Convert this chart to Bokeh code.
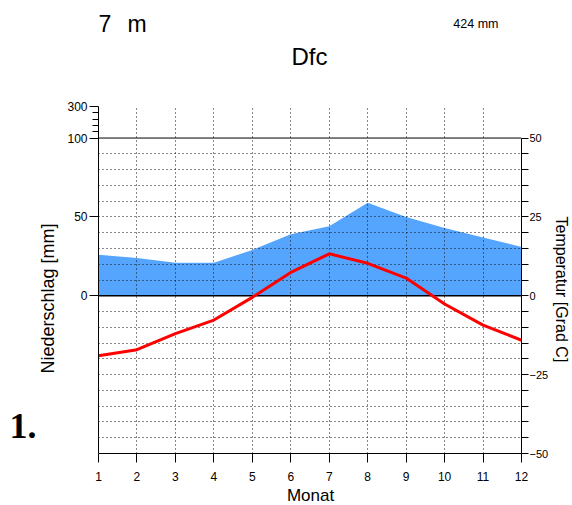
import math
from bokeh.plotting import figure
from bokeh.models import Range1d, LinearAxis, FixedTicker, Span, Label, Title
from bokeh.embed import file_html
from bokeh.resources import INLINE

# ---- data ----
months = [1, 2, 3, 4, 5, 6, 7, 8, 9, 10, 11, 12]
precip_mm = [26, 24, 21, 21, 29, 39, 44, 59, 50, 43, 37, 31]
temp_c = [-19.0, -17.1, -12.0, -7.7, -0.5, 7.4, 13.3, 10.3, 5.6, -2.6, -9.3, -14.1]

temp_major = [-50, -25, 0, 25, 50]
temp_minor = [-45, -40, -35, -30, -20, -15, -10, -5, 5, 10, 15, 20, 30, 35, 40, 45]
precip_major = [0, 50, 100, 300]
precip_minor = [140, 180, 220, 260]

elevation_text = "7  m"
total_text = "424 mm"
climate_class = "Dfc"
panel_label = "1."
x_title = "Monat"
left_title = "Niederschlag [mm]"
right_title = "Temperatur [Grad C]"


def p2y(mm):
    """precipitation (mm) -> plot units (temperature scale, 20 mm = 10 C, compressed above 100)"""
    return mm / 2.0 if mm <= 100 else 50 + (mm - 100) / 20.0


FONT = "Liberation Sans"

p = figure(width=572, height=505, output_backend="svg", toolbar_location=None,
           x_range=Range1d(1, 12), y_range=Range1d(-50, p2y(300)),
           min_border_left=98, min_border_right=51, min_border_top=106, min_border_bottom=52,
           background_fill_color="white", border_fill_color="white")
p.outline_line_color = None
p.title.visible = False

# precipitation area
area = p.varea(x=months, y1=[0] * len(months), y2=[p2y(v) for v in precip_mm],
               fill_color="#55A5FF")
area.level = "image"

# grid
p.xgrid.ticker = FixedTicker(ticks=months[1:-1])
p.ygrid.ticker = FixedTicker(ticks=temp_minor + [-25, 25])
for g in (p.xgrid[0], p.ygrid[0]):
    g.grid_line_color = "#111111"
    g.grid_line_dash = "1 3"
    g.grid_line_width = 1
    g.level = "underlay"

p.add_layout(Span(location=0, dimension="width", line_color="black", line_width=1.5, level="underlay"))
p.add_layout(Span(location=50, dimension="width", line_color="black", line_width=1, level="underlay"))

# temperature line
p.line(months, temp_c, line_color="#FF0000", line_width=3)

# x axis
xa = p.xaxis[0]
xa.ticker = FixedTicker(ticks=months)
xa.major_tick_out = 9
xa.major_tick_in = 0
xa.minor_tick_out = 0
xa.major_label_standoff = 9
xa.major_label_text_font = FONT
xa.major_label_text_font_size = "12px"
xa.major_label_text_color = "black"
xa.axis_line_color = "black"

# left precipitation axis
ya = p.yaxis[0]
ya.ticker = FixedTicker(ticks=[p2y(v) for v in precip_major], minor_ticks=[p2y(v) for v in precip_minor])
ya.major_label_overrides = {p2y(v): str(v) for v in precip_major}
ya.major_tick_out = 9
ya.major_tick_in = 0
ya.minor_tick_out = 6
ya.minor_tick_in = 0
ya.major_label_standoff = 2
ya.major_label_text_font = FONT
ya.major_label_text_font_size = "12px"
ya.major_label_text_color = "black"

# right temperature axis
ra = LinearAxis(ticker=FixedTicker(ticks=temp_major, minor_ticks=temp_minor), bounds=(-50, 50))
ra.major_tick_out = 7
ra.major_tick_in = 0
ra.minor_tick_out = 7
ra.minor_tick_in = 0
ra.major_label_standoff = 1
ra.major_label_text_font = FONT
ra.major_label_text_font_size = "11px"
ra.major_label_text_color = "black"
p.add_layout(ra, "right")

# rotated axis titles
p.add_layout(Title(text=left_title, align="left", offset=80, vertical_align="middle",
                   standoff=12, text_font=FONT, text_font_size="18px",
                   text_font_style="normal", text_color="black"), "left")
p.add_layout(Title(text=right_title, align="left", offset=110, vertical_align="middle",
                   standoff=0, text_font=FONT, text_font_size="16px",
                   text_font_style="normal", text_color="black"), "right")

# free texts, anchored at the frame's bottom-left corner (month 1, -50)
def lab(text, dx, dy, size, side, align="left", font=FONT, style="normal"):
    p.add_layout(Label(x=1, y=-50, x_offset=dx, y_offset=dy, text=text,
                       text_font=font, text_font_size=f"{size}px", text_font_style=style,
                       text_align=align, text_baseline="alphabetic",
                       text_color="black"), side)

lab(elevation_text.replace("  ", "\u2002\u2009"), 0, 430, 23, "above")
lab(total_text, 400, 430, 12.5, "above", align="right")
lab(climate_class, 211, 397, 24, "above", align="center")
lab(x_title, 212, -42, 17, "above", align="center")
lab(panel_label, -89, 28, 36, "left", font="Liberation Serif", style="bold")

open("out.html", "w").write(file_html(p, INLINE))
